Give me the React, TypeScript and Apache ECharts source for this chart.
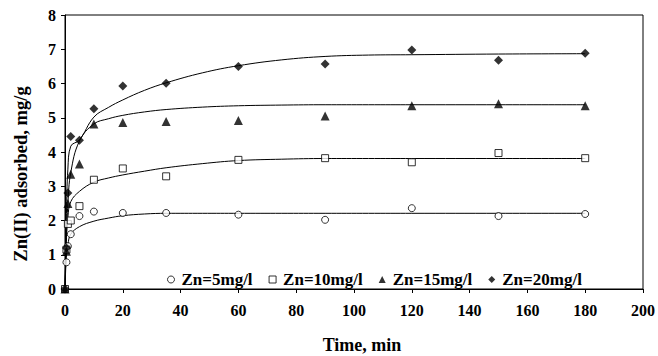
import React, { useEffect, useRef } from "react";
import * as echarts from "echarts";

const times = [0, 0.5, 1, 2, 5, 10, 20, 35, 60, 90, 120, 150, 180];
const zn5 = [0, 0.78, 1.25, 1.6, 2.13, 2.26, 2.22, 2.22, 2.17, 2.02, 2.36, 2.13, 2.19];
const zn10 = [0, 1.15, 1.9, 2.0, 2.42, 3.19, 3.52, 3.29, 3.77, 3.82, 3.7, 3.97, 3.82];
const zn15 = [0, 1.1, 2.5, 3.35, 3.65, 4.82, 4.86, 4.89, 4.92, 5.05, 5.35, 5.41, 5.35];
const zn20 = [0, 1.2, 2.8, 4.45, 4.34, 5.26, 5.93, 6.01, 6.5, 6.57, 6.98, 6.68, 6.88];

const fitTimes = [0, 0.5, 1, 2, 5, 10, 15, 20, 27.5, 35, 47.5, 60, 75, 90, 105, 120, 150, 180];
const fit5 = [0, 1.0, 1.3, 1.6, 1.82, 1.98, 2.07, 2.14, 2.19, 2.21, 2.21, 2.21, 2.21, 2.21, 2.21, 2.21, 2.21, 2.21];
const fit10 = [0, 1.5, 2.1, 2.55, 2.85, 3.12, 3.24, 3.33, 3.44, 3.54, 3.66, 3.75, 3.79, 3.81, 3.81, 3.81, 3.81, 3.81];
const fit15 = [0, 1.5, 2.5, 3.4, 4.32, 4.82, 4.97, 5.07, 5.17, 5.24, 5.31, 5.35, 5.37, 5.38, 5.38, 5.38, 5.38, 5.38];
const fit20 = [0, 2.2, 3.5, 4.17, 4.35, 5.02, 5.3, 5.52, 5.8, 6.02, 6.31, 6.52, 6.69, 6.79, 6.83, 6.84, 6.86, 6.87];

const seriesNames = ["Zn=5mg/l", "Zn=10mg/l", "Zn=15mg/l", "Zn=20mg/l"];
const xTitle = "Time, min";
const yTitle = "Zn(II) adsorbed, mg/g";

const FONT = "Liberation Serif";

const pairs = (ts: number[], vals: number[]) => ts.map((t, i) => [t, vals[i]]);

export default function App() {
  const ref = useRef<HTMLDivElement>(null);
  useEffect(() => {
    if (!ref.current) return;
    const chart = echarts.init(ref.current, undefined, { renderer: "svg" });
    const lineStyle = { color: "#000", width: 1 };
    const fitSeries = [fit5, fit10, fit15, fit20].map((f, i) => ({
      name: "fit" + i,
      type: "line",
      data: pairs(fitTimes, f),
      smooth: 0.4,
      showSymbol: false,
      symbol: "none",
      lineStyle,
      z: 2,
      silent: true,
    }));
    const symbols = ["circle", "rect", "triangle", "diamond"];
    const sizes = [7, 7, 9, 9];
    const hollow = [true, true, false, false];
    const scatterSeries = [zn5, zn10, zn15, zn20].map((v, i) => ({
      name: seriesNames[i],
      type: "scatter",
      data: pairs(times, v),
      symbol: symbols[i],
      symbolSize: sizes[i],
      itemStyle: hollow[i]
        ? { color: "#fff", borderColor: "#000", borderWidth: 1 }
        : { color: "#000" },
      z: 3,
    }));
    chart.setOption({
      animation: false,
      backgroundColor: "#fff",
      textStyle: { fontFamily: FONT },
      grid: {
        left: 65,
        right: 15,
        top: 15,
        bottom: 67,
        show: true,
        borderColor: "#000",
        borderWidth: 1,
        backgroundColor: "transparent",
      },
      legend: {
        data: seriesNames.map((n, i) => ({
          name: n,
          icon: symbols[i],
          itemStyle: hollow[i]
            ? { color: "#fff", borderColor: "#000", borderWidth: 1 }
            : { color: "#000", borderWidth: 0 },
        })),
        left: 162,
        top: 266,
        itemWidth: 7,
        itemHeight: 7,
        itemGap: 16,
        textStyle: { fontFamily: FONT, fontWeight: "bold", fontSize: 17, color: "#000", padding: [0, 0, 0, 2] },
      },
      xAxis: {
        type: "value",
        min: 0,
        max: 200,
        interval: 20,
        axisLine: { lineStyle: { color: "#000", width: 1 } },
        axisTick: { show: true, inside: false, length: 4, lineStyle: { color: "#000" } },
        splitLine: { show: false },
        axisLabel: { margin: 13, fontFamily: FONT, fontWeight: "bold", fontSize: 16, color: "#000" },
      },
      yAxis: {
        type: "value",
        min: 0,
        max: 8,
        interval: 1,
        axisLine: { show: true, lineStyle: { color: "#000", width: 1 } },
        axisTick: { show: true, inside: false, length: 4, lineStyle: { color: "#000" } },
        splitLine: { show: false },
        axisLabel: { margin: 9, fontFamily: FONT, fontWeight: "bold", fontSize: 16, color: "#000" },
      },
      graphic: [
        {
          type: "text",
          x: 362,
          y: 345,
          style: {
            text: xTitle,
            fontFamily: FONT,
            fontWeight: "bold",
            fontSize: 18,
            fill: "#000",
            textAlign: "center",
            textVerticalAlign: "middle",
          },
        },
        {
          type: "text",
          x: 21,
          y: 174,
          rotation: Math.PI / 2,
          style: {
            text: yTitle,
            fontFamily: FONT,
            fontWeight: "bold",
            fontSize: 18.5,
            fill: "#000",
            textAlign: "center",
            textVerticalAlign: "middle",
          },
        },
      ],
      series: [...fitSeries, ...scatterSeries],
    });
    return () => chart.dispose();
  }, []);
  return <div ref={ref} style={{ width: 658, height: 356, position: "absolute", left: 0, top: 0 }} />;
}
